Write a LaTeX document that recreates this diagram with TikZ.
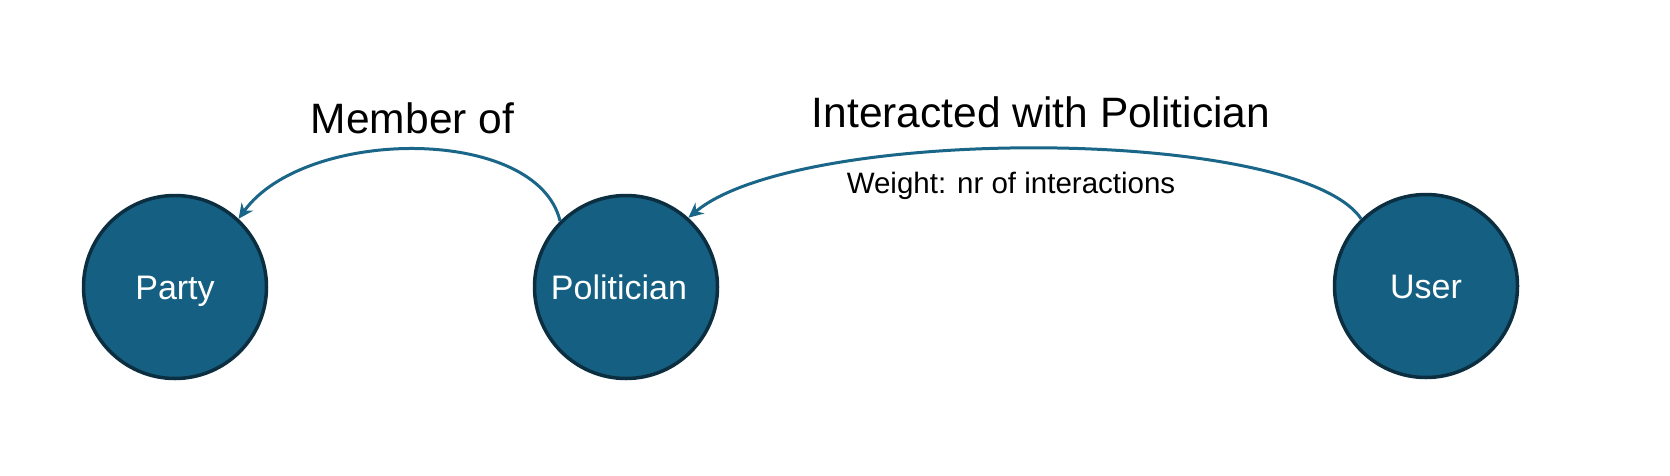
\documentclass[tikz,border=0pt]{standalone}
\usepackage{fontspec}
\setmainfont{Liberation Sans}
\usetikzlibrary{arrows.meta}
\definecolor{nodefill}{HTML}{156082}
\definecolor{nodeline}{HTML}{0B2E40}
\definecolor{edgecol}{HTML}{1A6688}
\tikzset{
  entity/.style={circle, draw=nodeline, fill=nodefill, line width=3.5pt,
    minimum size=183pt, inner sep=0pt, text=white,
    font=\fontsize{34}{40}\selectfont, text height=24pt, text depth=0pt},
  rel/.style={draw=edgecol, line width=3pt,
    -{Stealth[length=15pt,width=14pt,inset=5pt]}},
  biglabel/.style={anchor=base, inner sep=0pt, font=\fontsize{42.5}{50}\selectfont},
  smalllabel/.style={anchor=base, inner sep=0pt, font=\fontsize{29.5}{35}\selectfont}
}
\begin{document}
\begin{tikzpicture}[x=1pt,y=-1pt]
\useasboundingbox[fill=white] (0,0) rectangle (1670,475);
\node[entity] (party) at (175,287) {Party};
\node[entity] (pol) at (626,287) {Politician\hspace*{14pt}};
\node[entity] (user) at (1426,286) {User};
\draw[rel] (pol.135) .. controls +(-23,-96) and +(66,-92) .. (party.47);
\draw[rel] (user.134) .. controls +(-63,-93) and +(111,-93) .. (pol.48);
\node[biglabel] (memberof) at (412.5,133) {Member of};
\node[biglabel] (interacted) at (1041,127) {Interacted with Politician};
\node[smalllabel] (weight) at (1011,193) {Weight: nr of interactions};
\end{tikzpicture}
\end{document}
